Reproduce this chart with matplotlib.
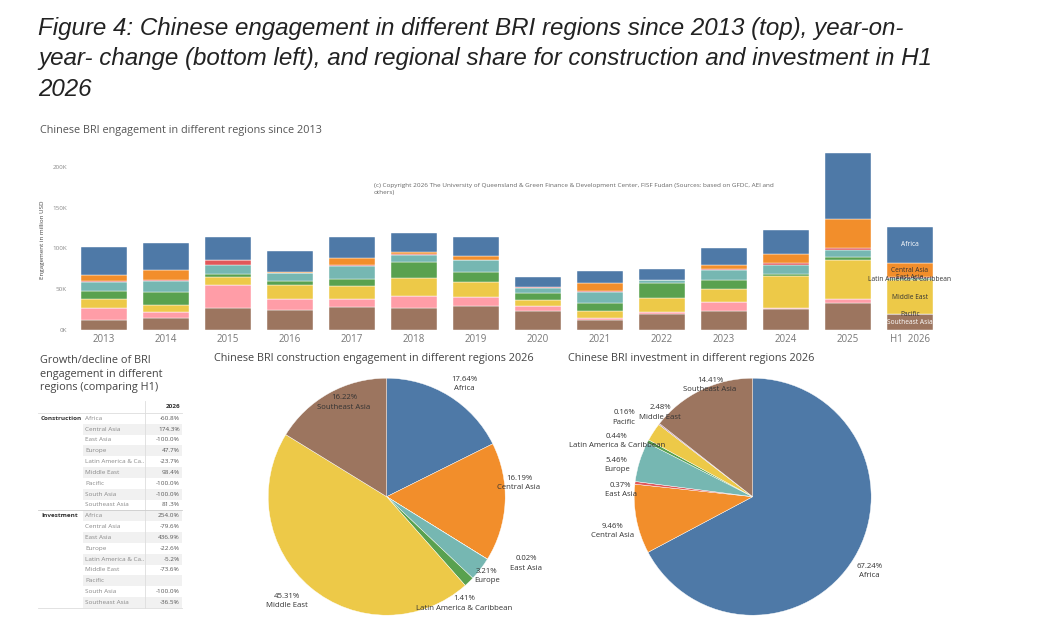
import numpy as np
import matplotlib
matplotlib.use('Agg')
import matplotlib.pyplot as plt
from matplotlib.patches import Rectangle

# ---- data (values in thousand million USD) ----
years = ['2013', '2014', '2015', '2016', '2017', '2018', '2019', '2020',
         '2021', '2022', '2023', '2024', '2025', 'H1  2026']
regions = ['Africa', 'Central Asia', 'East Asia', 'Europe', 'Latin America & Caribbean',
           'Middle East', 'Pacific', 'South Asia', 'Southeast Asia']
africa = [35.0, 32.6, 27.3, 25.7, 25.6, 23.2, 23.7, 11.8, 15.5, 13.6, 21.6, 29.3, 80.7, 44.8]
central_asia = [6.6, 12.2, 0.3, 0.6, 7.8, 1.7, 4.4, 0.6, 9.7, 0.3, 4.5, 11.1, 35.5, 17.1]
east_asia = [1.2, 1.3, 6.5, 0.6, 1.6, 1.6, 0.5, 1.0, 0.5, 0.5, 1.2, 2.8, 2.1, 0.3]
europe = [11.0, 13.4, 11.0, 9.0, 16.3, 8.9, 15.1, 6.5, 13.5, 2.8, 12.2, 10.6, 8.9, 2.4]
latam = [9.8, 15.9, 3.3, 5.3, 7.8, 19.6, 11.4, 7.8, 9.7, 19.2, 11.5, 2.0, 3.3, 0.6]
middle_east = [11.8, 8.2, 9.8, 17.5, 16.7, 21.6, 19.1, 7.3, 9.4, 16.3, 15.9, 39.6, 47.7, 41.7]
pacific = [0.0, 0.0, 0.0, 0.0, 0.0, 0.0, 0.0, 0.0, 0.0, 0.0, 0.0, 0.0, 0.0, 0.2]
south_asia = [14.3, 7.3, 27.7, 13.4, 9.0, 14.3, 10.6, 6.1, 2.5, 2.4, 11.0, 1.6, 4.9, 0.0]
southeast_asia = [12.6, 15.5, 27.7, 24.5, 28.9, 27.7, 29.8, 24.1, 12.2, 20.4, 23.2, 25.7, 33.4, 19.6]

# table: growth/decline comparing H1
table_regions = ['Africa', 'Central Asia', 'East Asia', 'Europe', 'Latin America & Ca..',
                 'Middle East', 'Pacific', 'South Asia', 'Southeast Asia']
construction_change = ['-60.8%', '174.3%', '-100.0%', '47.7%', '-23.7%', '98.4%',
                       '-100.0%', '-100.0%', '81.3%']
investment_change = ['254.0%', '-79.6%', '436.9%', '-22.6%', '-5.2%', '-73.6%',
                     '', '-100.0%', '-36.5%']

# pies (share in %)
construction_labels = ['Africa', 'Central Asia', 'East Asia', 'Europe',
                       'Latin America & Caribbean', 'Middle East', 'Southeast Asia']
construction_share = [17.64, 16.19, 0.02, 3.21, 1.41, 45.31, 16.22]
investment_labels = ['Africa', 'Central Asia', 'East Asia', 'Europe',
                     'Latin America & Caribbean', 'Middle East', 'Pacific', 'Southeast Asia']
investment_share = [67.24, 9.46, 0.37, 5.46, 0.44, 2.48, 0.16, 14.41]

colors = {'Africa': '#4E79A7', 'Central Asia': '#F28E2B', 'East Asia': '#E15759',
          'Europe': '#76B7B2', 'Latin America & Caribbean': '#59A14F',
          'Middle East': '#EDC948', 'Pacific': '#B07AA1', 'South Asia': '#FF9DA7',
          'Southeast Asia': '#9C755F'}

# ---- layout helpers (pixel based) ----
W, H = 1037, 628
TFONT = ['Open Sans', 'DejaVu Sans']


def frect(l, t, w, h):
    return [l / W, 1 - (t + h) / H, w / W, h / H]


fig = plt.figure(figsize=(W / 100, H / 100), dpi=100)
ov = fig.add_axes([0, 0, 1, 1])
ov.set_xlim(0, W)
ov.set_ylim(H, 0)
ov.axis('off')

# figure title
title_lines = ['Figure 4: Chinese engagement in different BRI regions since 2013 (top), year-on-',
               'year- change (bottom left), and regional share for construction and investment in H1',
               '2026']
for i, line in enumerate(title_lines):
    ov.text(38, 29 + i * 30, line, fontsize=17.4, style='italic', family='Liberation Sans',
            color='#222222', va='center', ha='left')

# ---- stacked bars ----
ov.text(40, 131, 'Chinese BRI engagement in different regions since 2013', fontsize=7.8,
        family=TFONT, color='#555555', va='center')

ax = fig.add_axes(frect(72.7, 150, 868, 180.3))
stack = [('Southeast Asia', southeast_asia), ('South Asia', south_asia), ('Pacific', pacific),
         ('Middle East', middle_east), ('Latin America & Caribbean', latam), ('Europe', europe),
         ('East Asia', east_asia), ('Central Asia', central_asia), ('Africa', africa)]
x = np.arange(len(years))
bottom = np.zeros(len(years))
for name, vals in stack:
    v = np.array(vals)
    ax.bar(x, v, bottom=bottom, width=0.74, color=colors[name], edgecolor='white', linewidth=0.3)
    # labels on last bar
    i = len(years) - 1
    if name not in ('Europe', 'South Asia'):
        tc = 'white' if name in ('Africa', 'Southeast Asia') else '#333333'
        ax.text(x[i], bottom[i] + v[i] / 2, name, fontsize=4.8, family=TFONT, color=tc,
                ha='center', va='center', zorder=5)
    bottom += v

ax.set_xlim(-0.5, len(years) - 0.5)
ax.set_ylim(0, 220.4)
ax.set_yticks([0, 50, 100, 150, 200])
ax.set_yticklabels([f'{t}K' for t in [0, 50, 100, 150, 200]], fontsize=4.5, color='#888888',
                   family=TFONT)
ax.set_xticks(x)
ax.set_xticklabels(years, fontsize=7, color='#777777', family=TFONT)
ax.tick_params(length=0, pad=3)
ax.tick_params(axis='y', pad=4)
for s in ax.spines.values():
    s.set_visible(False)
ax.set_ylabel('Engagement in million USD', fontsize=4.5, color='#444444', family=TFONT,
              labelpad=5)
ov.text(374, 188.7, '(c) Copyright 2026 The University of Queensland & Green Finance & Development '
        'Center, FISF Fudan (Sources: based on GFDC, AEI and\nothers)', fontsize=4.6,
        family=TFONT, color='#666666', va='center', linespacing=1.5)

# ---- table ----
ov.text(40, 374, 'Growth/decline of BRI\nengagement in different\nregions (comparing H1)',
        fontsize=7.8, family=TFONT, color='#444444', va='center', linespacing=1.3)
row0, rowh = 418.3, 10.83
tab_left, tab_mid, tab_right = 38, 145, 182
all_rows = [('Construction', table_regions, construction_change),
            ('Investment', table_regions, investment_change)]
k = 0
for group, regs, vals in all_rows:
    for j, (rg, val) in enumerate(zip(regs, vals)):
        y = row0 + k * rowh
        if k % 2 == 1:
            ov.add_patch(Rectangle((83, y - rowh / 2), tab_right - 83, rowh,
                                   color='#f1f1f1', lw=0, zorder=0))
        if j == 0:
            ov.text(41, y, group, fontsize=4.6, family=TFONT, color='#333333',
                    va='center', weight='bold')
        ov.text(85, y, rg, fontsize=4.6, family=TFONT, color='#888888', va='center')
        ov.text(180, y, val, fontsize=4.6, family=TFONT, color='#555555', va='center', ha='right')
        k += 1
ov.text(180, 406.7, '2026', fontsize=4.6, family=TFONT, color='#333333', va='center',
        ha='right', weight='bold')
ov.plot([tab_mid, tab_mid], [401, row0 + 17.5 * rowh], color='#dddddd', lw=0.6)
ov.plot([tab_left, tab_right], [row0 + 8.5 * rowh] * 2, color='#cccccc', lw=0.6)
ov.plot([tab_left, tab_right], [row0 + 17.5 * rowh] * 2, color='#dddddd', lw=0.6)
ov.plot([tab_left, tab_right], [row0 - 0.5 * rowh] * 2, color='#dddddd', lw=0.6)

# ---- pies ----
ov.text(214, 358, 'Chinese BRI construction engagement in different regions 2026', fontsize=7.8,
        family=TFONT, color='#444444', va='center')
ov.text(568, 358, 'Chinese BRI investment in different regions 2026', fontsize=7.8,
        family=TFONT, color='#444444', va='center')

pie_specs = [
    (construction_labels, construction_share, (386.7, 496.7),
     [(464, 384), (519, 483), (526, 563.5), (487, 576), (464, 603.5), (287, 601), (344, 402.5)]),
    (investment_labels, investment_share, (752.7, 496.7),
     [(869.3, 571), (612.3, 531), (620.7, 490.3), (616.7, 465), (616.7, 441), (660, 412.5),
      (624, 417.5), (710, 385)]),
]
r = 118.5
for labels, share, (cx, cy), lpos in pie_specs:
    pax = fig.add_axes(frect(cx - r, cy - r, 2 * r, 2 * r))
    pax.pie(share, colors=[colors[l] for l in labels], startangle=90, counterclock=False,
            wedgeprops=dict(edgecolor='white', linewidth=0.3))
    pax.set_xlim(-1, 1)
    pax.set_ylim(-1, 1)
    pax.set_aspect('equal')
    pax.axis('off')
    for lab, val, (lx, ly) in zip(labels, share, lpos):
        ov.text(lx, ly, f'{val:.2f}%\n{lab}', fontsize=5.6, family=TFONT, color='#333333',
                ha='center', va='center', linespacing=1.45, zorder=10)

# overlay on top so the pie labels sit above the wedges
ov.set_zorder(3)
ov.patch.set_alpha(0)

fig.savefig('out.png', dpi=100)
